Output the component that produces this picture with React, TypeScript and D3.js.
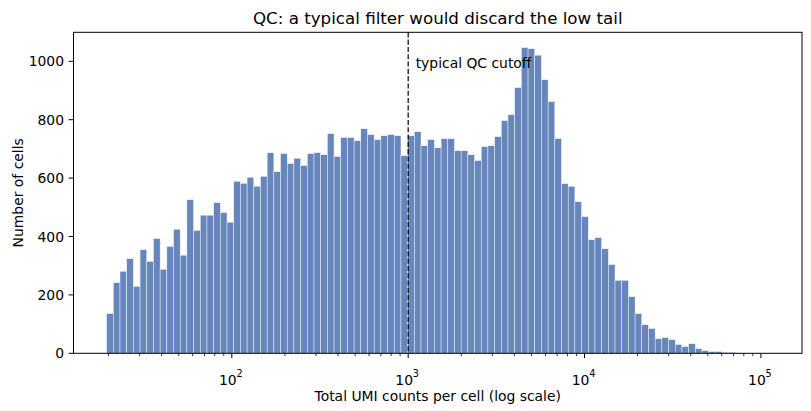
import React from "react";
import * as d3 from "d3";

// Histogram of total UMI counts per cell, log-spaced bins
const binLow = 19.5;
const binHigh = 111000;
const cellCounts = [
  136, 242, 281, 324, 229, 355, 315, 393, 288, 366,
  425, 336, 526, 421, 473, 473, 516, 482, 449, 589,
  582, 603, 572, 606, 687, 622, 684, 650, 668, 643,
  684, 687, 680, 752, 674, 739, 739, 728, 769, 749,
  732, 745, 749, 745, 677, 745, 759, 711, 732, 704,
  735, 735, 694, 694, 680, 660, 708, 711, 742, 797,
  817, 910, 1047, 1043, 1021, 937, 862, 735, 581, 572,
  519, 468, 389, 396, 358, 304, 250, 250, 194, 136,
  98, 85, 50, 54, 47, 30, 23, 33, 16, 9,
  6, 6, 3, 3, 1, 1, 0, 0, 1,
];
const cutoff = 1000;
const yTicks = [0, 200, 400, 600, 800, 1000];
const xMajorTicks = [100, 1000, 10000, 100000];
const xTickExponents = ["2", "3", "4", "5"];

const title = "QC: a typical filter would discard the low tail";
const xLabel = "Total UMI counts per cell (log scale)";
const yLabel = "Number of cells";
const cutoffLabel = "typical QC cutoff";

const W = 811;
const H = 411;
const plot = { left: 73.5, right: 802, top: 32.3, bottom: 353.3 };
const FONT = "DejaVu Sans, sans-serif";
const MAJOR = 4.86;
const MINOR = 2.78;

export default function App() {
  const nBins = cellCounts.length;
  const logLo = Math.log10(binLow);
  const logHi = Math.log10(binHigh);
  const edges = d3.range(nBins + 1).map((i) => Math.pow(10, logLo + ((logHi - logLo) * i) / nBins));

  const pad = 0.05 * (logHi - logLo);
  const x = d3
    .scaleLog()
    .domain([Math.pow(10, logLo - pad), Math.pow(10, logHi + pad)])
    .range([plot.left, plot.right]);
  const yMax = (d3.max(cellCounts) as number) * 1.05;
  const y = d3.scaleLinear().domain([0, yMax]).range([plot.bottom, plot.top]);

  const [d0, d1] = x.domain();
  const minorTicks: number[] = [];
  for (let e = Math.floor(Math.log10(d0)); e <= Math.ceil(Math.log10(d1)); e++) {
    for (let m = 2; m <= 9; m++) {
      const v = m * Math.pow(10, e);
      if (v >= d0 && v <= d1) minorTicks.push(v);
    }
  }

  const cx = (plot.left + plot.right) / 2;
  const cy = (plot.top + plot.bottom) / 2;

  return (
    <div style={{ position: "fixed", left: 0, top: 0 }}>
      <svg width={W} height={H} style={{ display: "block", background: "#fff" }} fontFamily={FONT}>
        <g>
          {cellCounts.map((c, i) => {
            const x0 = x(edges[i]);
            const x1 = x(edges[i + 1]);
            return (
              <rect
                key={i}
                x={x0}
                y={y(c)}
                width={x1 - x0}
                height={plot.bottom - y(c)}
                fill="#4C72B0"
                fillOpacity={0.85}
                stroke="#ffffff"
                strokeOpacity={0.85}
                strokeWidth={0.5}
              />
            );
          })}
        </g>

        <line
          x1={x(cutoff)}
          x2={x(cutoff)}
          y1={plot.top}
          y2={plot.bottom}
          stroke="#000"
          strokeWidth={1.2}
          strokeDasharray="5.1,2.2"
        />
        <text x={x(cutoff) + 7.5} y={68.3} fontSize={13.9} fill="#000">
          {cutoffLabel}
        </text>

        {/* frame */}
        <rect
          x={plot.left}
          y={plot.top}
          width={plot.right - plot.left}
          height={plot.bottom - plot.top}
          fill="none"
          stroke="#000"
          strokeWidth={1}
        />

        {/* y axis */}
        {yTicks.map((t) => (
          <g key={t}>
            <line x1={plot.left - MAJOR} x2={plot.left} y1={y(t)} y2={y(t)} stroke="#000" strokeWidth={1} />
            <text x={plot.left - MAJOR - 4.6} y={y(t)} dy="0.36em" textAnchor="end" fontSize={13.9} fill="#000">
              {t}
            </text>
          </g>
        ))}

        {/* x axis */}
        {minorTicks.map((t) => (
          <line key={t} x1={x(t)} x2={x(t)} y1={plot.bottom} y2={plot.bottom + MINOR} stroke="#000" strokeWidth={0.8} />
        ))}
        {xMajorTicks.map((t, i) => (
          <g key={t}>
            <line x1={x(t)} x2={x(t)} y1={plot.bottom} y2={plot.bottom + MAJOR} stroke="#000" strokeWidth={1} />
            <text x={x(t) - 4} y={385} textAnchor="middle" fontSize={13.9} fill="#000">
              10
            </text>
            <text x={x(t) + 4.6} y={376.5} textAnchor="start" fontSize={9.7} fill="#000">
              {xTickExponents[i]}
            </text>
          </g>
        ))}

        <text x={cx} y={24} textAnchor="middle" fontSize={16.7} fill="#000">
          {title}
        </text>
        <text x={cx} y={400.8} textAnchor="middle" fontSize={13.9} fill="#000">
          {xLabel}
        </text>
        <text
          transform={`translate(23.3, ${cy}) rotate(-90)`}
          textAnchor="middle"
          fontSize={13.9}
          fill="#000"
        >
          {yLabel}
        </text>
      </svg>
    </div>
  );
}
